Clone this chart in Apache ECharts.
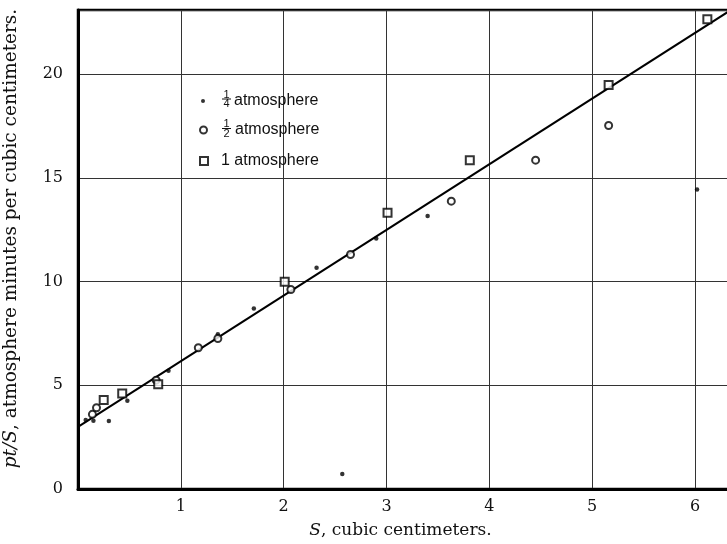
<!DOCTYPE html>
<html><head><meta charset="utf-8">
<script src="https://cdn.jsdelivr.net/npm/echarts@6/dist/echarts.min.js"></script>
<style>html,body{margin:0;padding:0;background:#fff}#c{width:727px;height:544px}</style>
</head><body><div id="c"></div>
<script>
// 1/4 atmosphere (small dots)
const quarterX = [0.075, 0.15, 0.30, 0.48, 0.88, 1.36, 1.71, 2.32, 2.90, 3.40, 2.57, 6.02];
const quarterY = [3.33, 3.29, 3.28, 4.26, 5.70, 7.46, 8.71, 10.67, 12.08, 13.16, 0.72, 14.44];
// 1/2 atmosphere (open circles)
const halfX = [0.14, 0.18, 0.76, 1.17, 1.36, 2.07, 2.65, 3.63, 4.45, 5.16];
const halfY = [3.60, 3.92, 5.25, 6.81, 7.26, 9.62, 11.31, 13.88, 15.86, 17.53];
// 1 atmosphere (open squares)
const oneX = [0.25, 0.43, 0.78, 2.01, 3.01, 3.81, 5.16, 6.12];
const oneY = [4.29, 4.61, 5.05, 9.99, 13.32, 15.86, 19.48, 22.65];
// fitted straight line
const fitX = [0, 6.35];
const fitY = [3.0, 23.1];
// axis ticks
const xTicks = [1, 2, 3, 4, 5, 6];
const yTicks = [0, 5, 10, 15, 20];

const pairs = (xs, ys) => xs.map((x, i) => [x, ys[i]]);
const serif = '"DejaVu Serif", "Liberation Serif", serif';
const sans = '"Liberation Sans", Arial, sans-serif';

const chart = echarts.init(document.getElementById('c'));
const legendText = {
  fontFamily: sans, fontSize: 16, color: '#111', lineHeight: 16,
  rich: {
    pq: {width: 24, lineHeight: 16},
    ph: {width: 23, lineHeight: 16},
    p1: {width: 8, lineHeight: 16, fontFamily: sans, fontSize: 16}
  }
};
chart.setOption({
  animation: false,
  backgroundColor: '#fff',
  grid: {left: 78, right: -4, top: 10, bottom: 55, containLabel: false, outerBoundsMode: 'none',
    show: true, borderColor: '#000', borderWidth: 2.5},
  xAxis: {
    type: 'value', min: 0, max: 6.35, interval: 1,
    name: '{i|S}, cubic centimeters.', nameLocation: 'middle', nameGap: 33,
    nameTextStyle: {fontFamily: serif, fontSize: 17, color: '#111', padding: [0, 8, 0, 0],
      rich: {i: {fontStyle: 'italic', fontFamily: serif, fontSize: 17, color: '#111'}}},
    axisLine: {show: true, lineStyle: {color: '#000', width: 3}},
    axisTick: {show: false},
    axisLabel: {margin: 10, fontFamily: serif, fontSize: 16, color: '#111',
      formatter: v => xTicks.includes(Math.round(v * 1000) / 1000) ? String(v) : ''},
    splitLine: {show: true, lineStyle: {color: '#333', width: 1}}
  },
  yAxis: {
    type: 'value', min: 0, max: 23.1, interval: 5,
    name: '{i|pt/S}, atmosphere minutes per cubic centimeters.', nameLocation: 'middle', nameGap: 57,
    nameRotate: 90,
    nameTextStyle: {fontFamily: serif, fontSize: 18.5, color: '#111', padding: [0, 0, 0, 22],
      rich: {i: {fontStyle: 'italic', fontFamily: serif, fontSize: 18.5, color: '#111'}}},
    axisLine: {show: true, lineStyle: {color: '#000', width: 3}},
    axisTick: {show: false},
    axisLabel: {margin: 15, fontFamily: serif, fontSize: 16, color: '#111', padding: [0, 0, 8, 0],
      formatter: v => yTicks.includes(Math.round(v * 1000) / 1000) ? String(v) : ''},
    splitLine: {show: true, lineStyle: {color: '#333', width: 1}}
  },
  legend: [
    {data: [{name: 'q', icon: 'circle'}], orient: 'vertical', left: 196, top: 88, itemWidth: 4, itemHeight: 4,
      formatter: () => '{pq|}atmosphere', textStyle: legendText, selectedMode: false},
    {data: [{name: 'h', icon: 'emptyCircle'}], orient: 'vertical', left: 194, top: 117, itemWidth: 7, itemHeight: 7,
      formatter: () => '{ph|}atmosphere', textStyle: legendText, selectedMode: false},
    {data: [{name: 'o', icon: 'emptyRect'}], orient: 'vertical', left: 194, top: 148, itemWidth: 8, itemHeight: 8,
      formatter: () => '{p1|}1 atmosphere', textStyle: legendText, selectedMode: false}
  ],
  graphic: [
    {type: 'text', x: 226.5, y: 95, style: {text: '1', font: '11px ' + sans, fill: '#111', align: 'center', verticalAlign: 'middle'}},
    {type: 'line', shape: {x1: 222, y1: 99, x2: 231, y2: 99}, style: {stroke: '#111', lineWidth: 1}},
    {type: 'text', x: 226.5, y: 104, style: {text: '4', font: '11px ' + sans, fill: '#111', align: 'center', verticalAlign: 'middle'}},
    {type: 'text', x: 226.5, y: 124, style: {text: '1', font: '11px ' + sans, fill: '#111', align: 'center', verticalAlign: 'middle'}},
    {type: 'line', shape: {x1: 222, y1: 128.5, x2: 231, y2: 128.5}, style: {stroke: '#111', lineWidth: 1}},
    {type: 'text', x: 226.5, y: 134, style: {text: '2', font: '11px ' + sans, fill: '#111', align: 'center', verticalAlign: 'middle'}}
  ],
  series: [
    {type: 'line', name: 'fit', data: pairs(fitX, fitY), symbol: 'none', z: 1,
      lineStyle: {color: '#000', width: 2}},
    {type: 'scatter', name: 'q', data: pairs(quarterX, quarterY), symbol: 'circle', symbolSize: 4.5, z: 3,
      itemStyle: {color: '#000'}},
    {type: 'scatter', name: 'h', data: pairs(halfX, halfY), symbol: 'emptyCircle', symbolSize: 7, z: 3,
      itemStyle: {color: '#000', borderColor: '#000', borderWidth: 1.3}},
    {type: 'scatter', name: 'o', data: pairs(oneX, oneY), symbol: 'emptyRect', symbolSize: 8, z: 3,
      itemStyle: {color: '#000', borderColor: '#000', borderWidth: 1.5}}
  ]
});
</script></body></html>
